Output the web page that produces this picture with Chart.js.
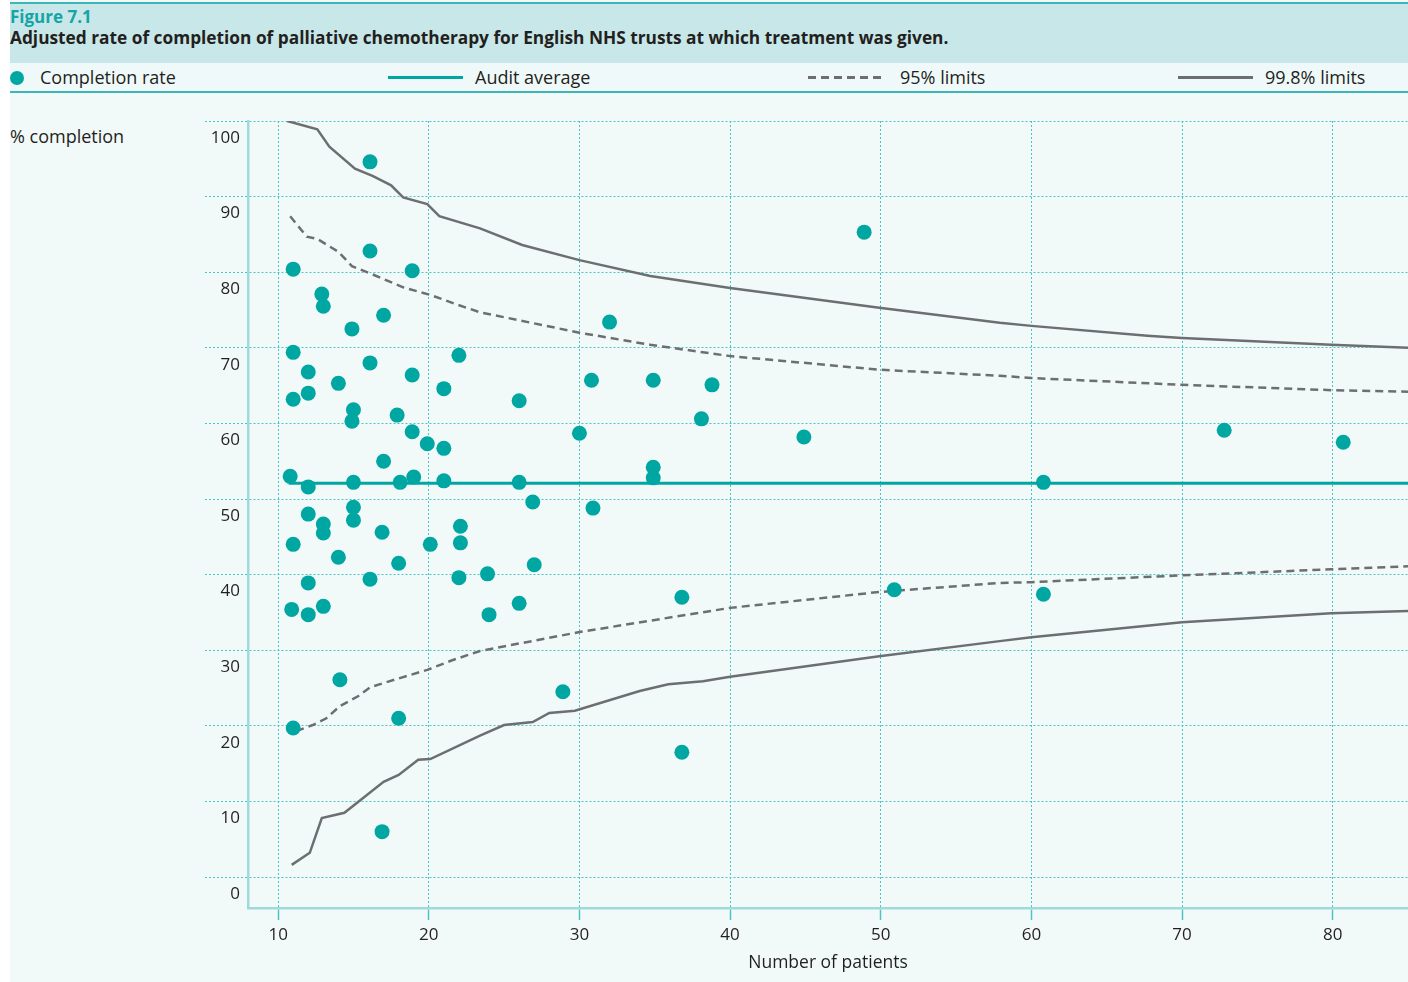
<!DOCTYPE html>
<html>
<head>
<meta charset="utf-8">
<script src="https://cdn.jsdelivr.net/npm/chart.js@4"></script>
<style>
  body { margin: 0; background: #fff; font-family: 'Open Sans', sans-serif; color: #231f20; }
  #page { position: relative; width: 1408px; height: 982px; overflow: hidden; }
  #panel { position: absolute; left: 10px; top: 0; width: 1398px; height: 982px; background: #f2faf9; }
  #band { position: absolute; left: 10px; top: 2px; width: 1398px; height: 59px; background: #c8e7e9;
          border-top: 2px solid #3db6b8; border-bottom: 2px solid #3db6b8; }
  #legendRow { position: absolute; left: 10px; top: 63px; width: 1398px; height: 28px; background: #f0f9f9;
               border-bottom: 2px solid #3db6b8; }
  .abs { position: absolute; white-space: nowrap; }
  #figNo { left: 10px; top: 5px; font-size: 17px; font-weight: 700; color: #16a5a6; }
  #figTitle { left: 10px; top: 26px; font-size: 17.3px; font-weight: 700; }
  .legText { font-size: 18px; top: 65px; }
  #yTitle { left: 10px; top: 124px; font-size: 18px; }
  canvas { position: absolute; left: 0; top: 0; }
</style>
</head>
<body>
<div id="page">
  <div id="panel"></div>
  <div id="band"></div>
  <div id="legendRow"></div>
  <div class="abs" id="figNo">Figure 7.1</div>
  <div class="abs" id="figTitle">Adjusted rate of completion of palliative chemotherapy for English NHS trusts at which treatment was given.</div>

  <div class="abs" style="left:10px;top:71px;width:14px;height:14px;border-radius:50%;background:#00a7a2;"></div>
  <div class="abs legText" style="left:40px;">Completion rate</div>
  <div class="abs" style="left:388px;top:76px;width:75px;height:3px;background:#00a7a2;"></div>
  <div class="abs legText" style="left:475px;">Audit average</div>
  <div class="abs" style="left:808px;top:76px;width:78px;height:2.5px;background:repeating-linear-gradient(90deg,#6d6e71 0 8px,transparent 8px 13px);"></div>
  <div class="abs legText" style="left:900px;">95% limits</div>
  <div class="abs" style="left:1178px;top:76px;width:75px;height:2.5px;background:#6d6e71;"></div>
  <div class="abs legText" style="left:1265px;">99.8% limits</div>

  <div class="abs" id="yTitle">% completion</div>
  <canvas id="funnelChart" width="1408" height="982"></canvas>
</div>

<script>
// trusts: number of patients and adjusted completion rate (%)
const patients = [
  16.1, 48.9, 16.1, 11.0, 18.9, 12.9, 13.0, 17.0, 14.9, 32.0,
  11.0, 22.0, 16.1, 12.0, 18.9, 14.0, 21.0, 30.8, 34.9, 38.8,
  11.0, 12.0, 26.0, 15.0, 14.9, 17.9, 38.1, 18.9, 19.9, 21.0,
  30.0, 44.9, 72.8, 80.7, 17.0, 10.8, 12.0, 15.0, 18.1, 19.0,
  21.0, 26.0, 34.9, 34.9, 60.8, 26.9, 15.0, 12.0, 15.0, 13.0,
  13.0, 22.1, 30.9, 16.9, 11.0, 14.0, 20.1, 22.1, 27.0, 23.9,
  18.0, 16.1, 22.0, 12.0, 50.9, 36.8, 60.8, 10.9, 12.0, 13.0,
  24.0, 26.0, 14.1, 28.9, 18.0, 11.0, 36.8, 16.9
];
const completion = [
  94.6, 85.3, 82.8, 80.4, 80.2, 77.1, 75.5, 74.3, 72.5, 73.4,
  69.4, 69.0, 68.0, 66.8, 66.4, 65.3, 64.6, 65.7, 65.7, 65.1,
  63.2, 64.0, 63.0, 61.8, 60.3, 61.1, 60.6, 58.9, 57.3, 56.7,
  58.7, 58.2, 59.1, 57.5, 55.0, 53.0, 51.6, 52.2, 52.2, 52.9,
  52.4, 52.2, 54.2, 52.8, 52.2, 49.6, 48.9, 48.0, 47.2, 46.7,
  45.5, 46.4, 48.8, 45.6, 44.0, 42.3, 44.0, 44.2, 41.3, 40.1,
  41.5, 39.4, 39.6, 38.9, 38.0, 37.0, 37.4, 35.4, 34.7, 35.8,
  34.7, 36.2, 26.1, 24.5, 21.0, 19.7, 16.5, 6.0
];

const auditX = [10.7, 85];
const auditAvg = [52.1, 52.1];

// 99.8% limits
const upper998X = [10.6, 12.6, 13.4, 15.1, 16.3, 17.5, 18.3, 19.9, 20.7, 23.4, 26.2, 30.0, 34.7, 40.0, 49.9, 57.9, 60.0, 67.7, 70.0, 79.9, 85.0];
const upper998  = [100.0, 98.9, 96.6, 93.7, 92.7, 91.5, 89.9, 89.0, 87.4, 85.8, 83.6, 81.6, 79.5, 77.9, 75.3, 73.3, 72.9, 71.6, 71.3, 70.4, 70.0];
const lower998X = [10.9, 12.1, 12.9, 14.4, 17.0, 18.0, 19.3, 20.1, 23.4, 25.0, 26.9, 28.0, 29.7, 34.0, 35.9, 38.2, 40.0, 49.9, 57.9, 60.0, 70.0, 79.9, 85.0];
const lower998  = [1.6, 3.2, 7.8, 8.5, 12.6, 13.5, 15.5, 15.6, 18.7, 20.1, 20.5, 21.7, 22.0, 24.6, 25.5, 25.9, 26.5, 29.2, 31.2, 31.7, 33.7, 34.9, 35.2];

// 95% limits
const upper95X = [10.8, 11.9, 12.6, 14.0, 14.9, 16.4, 18.3, 20.1, 21.9, 23.4, 30.0, 34.7, 40.0, 49.9, 57.9, 60.0, 70.0, 79.9, 85.0];
const upper95  = [87.4, 84.7, 84.4, 82.7, 80.8, 79.6, 78.0, 77.0, 75.7, 74.7, 72.0, 70.4, 68.9, 67.1, 66.3, 66.0, 65.1, 64.4, 64.2];
const lower95X = [11.2, 12.3, 13.2, 14.1, 15.3, 16.1, 17.9, 19.9, 21.6, 23.4, 30.0, 40.0, 49.9, 57.9, 60.0, 70.0, 79.9, 85.0];
const lower95  = [19.3, 20.1, 21.0, 22.6, 23.9, 25.1, 26.2, 27.4, 28.7, 29.9, 32.4, 35.6, 37.7, 38.9, 39.0, 39.9, 40.7, 41.1];

const xTickValues = [10, 20, 30, 40, 50, 60, 70, 80];
const yTickValues = [0, 10, 20, 30, 40, 50, 60, 70, 80, 90, 100];

const toPoints = (xs, ys) => xs.map((x, i) => ({ x: x, y: ys[i] }));

const teal = '#00a7a2';
const grey = '#6d6e71';
const gridTeal = '#4cc4c6';

function limitLine(label, xs, ys, dashed) {
    return {
        label: label,
        data: toPoints(xs, ys),
        showLine: true,
        borderColor: grey,
        borderWidth: 2.5,
        borderDash: dashed ? [8, 5] : [],
        pointRadius: 0,
        tension: 0,
        order: 2
    };
}

const ctx = document.getElementById('funnelChart').getContext('2d');

const funnelChart = new Chart(ctx, {
    type: 'scatter',
    data: {
        datasets: [
            {
                label: 'Completion rate',
                data: toPoints(patients, completion),
                backgroundColor: teal,
                borderColor: teal,
                pointRadius: 7.5,
                pointBorderWidth: 0,
                order: 0
            },
            {
                label: 'Audit average',
                data: toPoints(auditX, auditAvg),
                showLine: true,
                borderColor: teal,
                borderWidth: 3,
                pointRadius: 0,
                order: 1
            },
            limitLine('95% limits upper', upper95X, upper95, true),
            limitLine('95% limits lower', lower95X, lower95, true),
            limitLine('99.8% limits upper', upper998X, upper998, false),
            limitLine('99.8% limits lower', lower998X, lower998, false)
        ]
    },
    options: {
        responsive: false,
        animation: false,
        layout: {
            autoPadding: false,
            padding: { top: 121, left: 0, right: 0, bottom: 0 }
        },
        plugins: {
            legend: { display: false },
            title: { display: false },
            tooltip: { enabled: false }
        },
        scales: {
            x: {
                type: 'linear',
                min: 8,
                max: 85,
                afterFit: (scale) => {
                    scale.height = 74;
                    scale.paddingLeft = 0;
                    scale.paddingRight = 0;
                },
                afterBuildTicks: (scale) => { scale.ticks = xTickValues.map(v => ({ value: v })); },
                ticks: {
                    color: '#231f20',
                    font: { family: 'Open Sans', size: 17 },
                    padding: 5,
                    maxRotation: 0
                },
                grid: {
                    color: gridTeal,
                    lineWidth: 1,
                    tickLength: 12,
                    tickBorderDash: [],
                    tickColor: gridTeal,
                    tickWidth: 1.5
                },
                border: {
                    color: '#9fdadb',
                    width: 2.5,
                    dash: [2, 2]
                },
                title: {
                    display: true,
                    text: 'Number of patients',
                    color: '#231f20',
                    font: { family: 'Open Sans', size: 17.5 },
                    padding: { top: 0, bottom: 8 }
                }
            },
            y: {
                type: 'linear',
                min: -4.1,
                max: 100,
                afterFit: (scale) => {
                    scale.width = 248;
                    scale.paddingTop = 0;
                    scale.paddingBottom = 0;
                },
                afterBuildTicks: (scale) => { scale.ticks = yTickValues.map(v => ({ value: v })); },
                ticks: {
                    color: '#231f20',
                    font: { family: 'Open Sans', size: 17 },
                    padding: -35,
                    labelOffset: 17
                },
                grid: {
                    color: gridTeal,
                    lineWidth: 1,
                    tickLength: 43,
                    tickBorderDash: [2, 2],
                    tickColor: gridTeal
                },
                border: {
                    color: '#9fdadb',
                    width: 2.5,
                    dash: [2, 2]
                }
            }
        }
    }
});
</script>
</body>
</html>
